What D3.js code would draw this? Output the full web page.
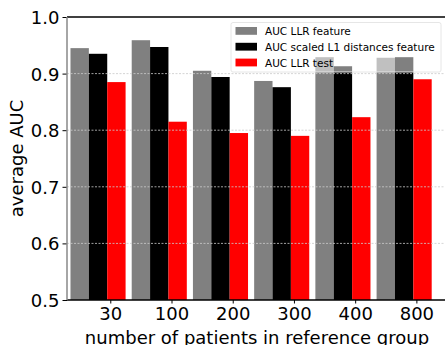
<!DOCTYPE html>
<html>
<head>
<meta charset="utf-8">
<script src="https://cdn.jsdelivr.net/npm/d3@7"></script>
<style>
  body { margin: 0; background: #fff; }
  svg { display: block; font-family: "DejaVu Sans", sans-serif; }
</style>
</head>
<body>
<div id="chart"></div>
<script>
// values
var groups = ["30", "100", "200", "300", "400", "800"];
var llrFeature = [0.945, 0.959, 0.905, 0.887, 0.929, 0.928];
var l1Feature = [0.935, 0.947, 0.894, 0.876, 0.913, 0.929];
var llrTest = [0.885, 0.815, 0.795, 0.790, 0.823, 0.890];
var seriesNames = ["AUC LLR feature", "AUC scaled L1 distances feature", "AUC LLR test"];
var seriesColors = ["#808080", "#000000", "#ff0000"];
var yTicks = [0.5, 0.6, 0.7, 0.8, 0.9, 1.0];

var width = 445, height = 345;
var margin = { top: 17, right: -2, bottom: 45, left: 67 };
var w = width - margin.left - margin.right;
var h = height - margin.top - margin.bottom;

var svg = d3.select("#chart").append("svg")
  .attr("width", width)
  .attr("height", height);

var g = svg.append("g")
  .attr("transform", `translate(${margin.left},${margin.top})`);

var x = d3.scaleLinear().domain([-0.707, 5.5]).range([0, w]);
var y = d3.scaleLinear().domain([0.5, 1.0]).range([h, 0]);

var barW = 0.3;
var offsets = [-0.5, -0.2, 0.1];
var allSeries = [llrFeature, l1Feature, llrTest];

// bars
allSeries.forEach(function (vals, s) {
  g.selectAll(".bar" + s)
    .data(vals)
    .enter()
    .append("rect")
      .attr("x", (d, i) => x(i + offsets[s] - barW / 2))
      .attr("width", x(barW) - x(0))
      .attr("y", d => y(d))
      .attr("height", d => y(0.5) - y(d))
      .attr("fill", seriesColors[s]);
});

// grid on top of bars
g.selectAll(".grid")
  .data(yTicks.slice(1, -1))
  .enter()
  .append("line")
    .attr("x1", 0)
    .attr("x2", w)
    .attr("y1", d => y(d))
    .attr("y2", d => y(d))
    .attr("stroke", "#cccccc")
    .attr("stroke-width", 1)
    .attr("stroke-dasharray", "2,1.5")
    .attr("opacity", 0.8);

// legend
var lg = g.append("g").attr("transform", "translate(164,5.5)");
lg.append("rect")
  .attr("width", 210)
  .attr("height", 49.5)
  .attr("rx", 2)
  .attr("fill", "white")
  .attr("fill-opacity", 0.5)
  .attr("stroke", "#e6e6e6")
  .attr("stroke-width", 1);
seriesNames.forEach(function (name, s) {
  var row = lg.append("g").attr("transform", `translate(0,${4.5 + s * 15.8})`);
  row.append("rect")
    .attr("x", 4.5)
    .attr("width", 21.5)
    .attr("height", 7.8)
    .attr("fill", seriesColors[s]);
  row.append("text")
    .attr("x", 34)
    .attr("y", 8)
    .attr("font-size", "10.5px")
    .attr("fill", "#000")
    .text(name);
});

// y axis
var yAxis = g.append("g")
  .call(d3.axisLeft(y).tickValues(yTicks).tickFormat(d3.format(".1f")).tickSize(4.5).tickPadding(3));
yAxis.select(".domain").remove();
yAxis.selectAll("text").attr("font-size", "18px").attr("font-family", "DejaVu Sans").attr("dy", "0.36em").attr("fill", "#000");
yAxis.selectAll("line").attr("stroke", "#000");

// x axis
var xAxis = g.append("g")
  .attr("transform", `translate(0,${h})`)
  .call(d3.axisBottom(x).tickValues(d3.range(groups.length)).tickFormat(i => groups[i]).tickSize(3.5).tickPadding(4));
xAxis.select(".domain").remove();
xAxis.selectAll("text").attr("font-size", "18px").attr("font-family", "DejaVu Sans").attr("fill", "#000");
xAxis.selectAll("line").attr("stroke", "#000");

// spines
g.append("line").attr("x1", 0).attr("x2", w).attr("y1", 0).attr("y2", 0).attr("stroke", "#000").attr("stroke-width", 1.3);
g.append("line").attr("x1", 0).attr("x2", w).attr("y1", h).attr("y2", h).attr("stroke", "#000").attr("stroke-width", 1.3);
g.append("line").attr("x1", 0).attr("x2", 0).attr("y1", 0).attr("y2", h).attr("stroke", "#888").attr("stroke-width", 1.5);

// axis labels
g.append("text")
  .attr("x", w / 2)
  .attr("y", h + 44)
  .attr("text-anchor", "middle")
  .attr("font-size", "18px")
  .text("number of patients in reference group");

g.append("text")
  .attr("transform", `translate(${-44},${h / 2}) rotate(-90)`)
  .attr("text-anchor", "middle")
  .attr("font-size", "18px")
  .text("average AUC");
</script>
</body>
</html>
